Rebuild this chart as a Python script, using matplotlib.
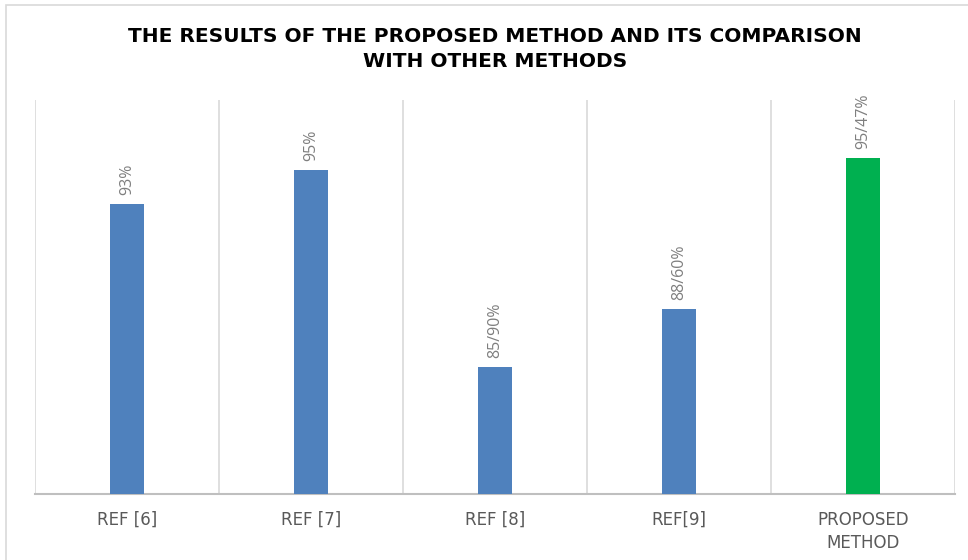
import matplotlib
matplotlib.use("Agg")
import matplotlib.pyplot as plt
from matplotlib.patches import Rectangle

# data
categories = ["REF [6]", "REF [7]", "REF [8]", "REF[9]", "PROPOSED\nMETHOD"]
bar_values = [93.1, 95.1, 83.5, 86.9, 95.8]
bar_labels = ["93%", "95%", "85/90%", "88/60%", "95/47%"]
bar_colors = ["#4F81BD", "#4F81BD", "#4F81BD", "#4F81BD", "#00B050"]

plt.rcParams['font.family'] = ['Open Sans', 'DejaVu Sans']

fig = plt.figure(figsize=(9.68, 5.60), dpi=100)
ax = fig.add_axes([35/968, 1-494/560, 920/968, 394/560])

x = list(range(len(categories)))
ax.bar(x, bar_values, width=0.185, color=bar_colors, zorder=3)
ax.set_xlim(-0.5, len(categories)-0.5)
ax.set_ylim(76, 99.2)

# vertical separators between categories
for b in range(len(categories)+1):
    ax.axvline(b-0.5, color="#d9d9d9", lw=1.2, zorder=1)

for xi, v, lab in zip(x, bar_values, bar_labels):
    ax.annotate(lab, (xi, v), xytext=(0, 6.5), textcoords="offset points",
                rotation=90, ha="center", va="bottom", fontsize=11.5, color="#7f7f7f")

ax.set_yticks([])
ax.set_xticks(x)
ax.set_xticklabels(categories, fontsize=12, color="#595959", linespacing=1.35,
                   family=["DejaVu Sans"])
ax.tick_params(axis="x", length=0, pad=12)
for s in ["top", "right", "left"]:
    ax.spines[s].set_visible(False)
ax.spines["bottom"].set_color("#bfbfbf")
ax.spines["bottom"].set_linewidth(1.5)

fig.text(0.511, 1-49/560, "THE RESULTS OF THE PROPOSED METHOD AND ITS COMPARISON\nWITH OTHER METHODS",
         ha="center", va="center", fontsize=14.5, fontweight="bold", color="black",
         linespacing=1.35, family=["DejaVu Sans"])

# outer chart frame
fig.patches.append(Rectangle((6/968, -0.1), 1.1, 1.1 - 5/560, transform=fig.transFigure,
                             fill=False, edgecolor="#d9d9d9", lw=1.2))

fig.savefig("out.png", dpi=100)
